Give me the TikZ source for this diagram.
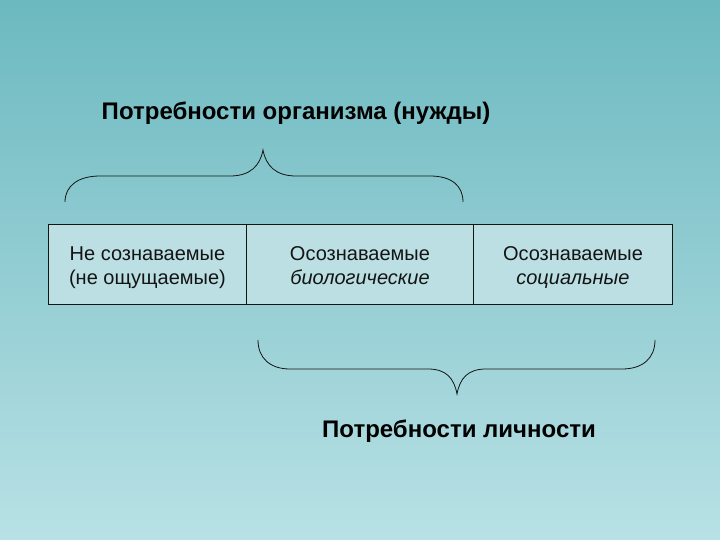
\documentclass[tikz,border=0pt]{standalone}
\usepackage{fontspec}
\setmainfont{Liberation Sans}
\definecolor{bgtop}{HTML}{6CB9C0}
\definecolor{bgmid}{HTML}{9BBFC1}
\definecolor{bgbot}{HTML}{B8E1E5}
\definecolor{cellfill}{HTML}{BBDFE3}
\definecolor{ink}{HTML}{141414}
\tikzset{
  cellbox/.style={draw=ink, line width=0.9pt, fill=cellfill, minimum height=80pt, inner sep=0pt, anchor=north west},
  celltext/.style={align=center, inner sep=0pt, font=\fontsize{20}{24}\selectfont, text=ink, yshift=-3.5pt},
  heading/.style={font=\bfseries\fontsize{24}{28}\selectfont, text=black},
  bracepath/.style={draw=ink, line width=0.8pt},
}
\begin{document}
\begin{tikzpicture}[x=1pt,y=-1pt]
\useasboundingbox (0,0) rectangle (720,540);
\shade[top color=bgtop, middle color=bgmid, bottom color=bgbot] (0,0) rectangle (720,540);
\node[heading] (t1) at (296,113) {Потребности организма (нужды)};
\node[heading] (t2) at (459,431) {Потребности личности};
\node[cellbox, minimum width=198pt] (c1) at (48,224) {};
\node[cellbox, minimum width=227pt] (c2) at (246,224) {};
\node[cellbox, minimum width=199pt] (c3) at (473,224) {};
\node[celltext] (c1t) at (c1.center) {\strut Не сознаваемые\\\strut(не ощущаемые)};
\node[celltext] (c2t) at (c2.center) {\strut Осознаваемые\\\strut\textit{биологические}};
\node[celltext] (c3t) at (c3.center) {\strut Осознаваемые\\\strut\textit{социальные}};
% top brace
\coordinate (a1) at (65,202);
\coordinate (a2) at (263,150);
\coordinate (a3) at (463,202);
\draw[bracepath] (a1) .. controls (65,186) and (78,176) .. (100,176) -- (230,176)
  .. controls (250,176) and (260,166) .. (a2)
  .. controls (266,166) and (276,176) .. (296,176) -- (430,176)
  .. controls (452,176) and (463,186) .. (a3);
% bottom brace
\coordinate (b1) at (258,340);
\coordinate (b2) at (457,394);
\coordinate (b3) at (655,340);
\draw[bracepath] (b1) .. controls (258,358) and (270,369) .. (290,369) -- (428,369)
  .. controls (446,369) and (454,378) .. (b2)
  .. controls (460,378) and (468,369) .. (486,369) -- (622,369)
  .. controls (643,369) and (655,358) .. (b3);
\end{tikzpicture}
\end{document}
